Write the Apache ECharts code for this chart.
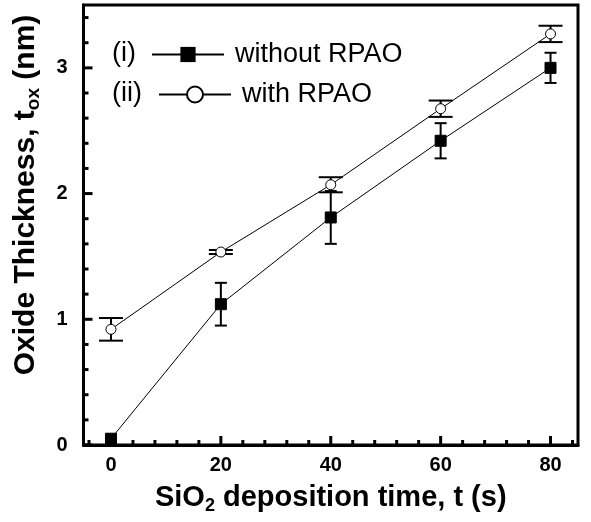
<!DOCTYPE html>
<html>
<head>
<meta charset="utf-8">
<script src="https://cdn.jsdelivr.net/npm/echarts@6/dist/echarts.min.js"></script>
<style>
  html, body { margin: 0; padding: 0; background: #fff; }
  #chart { width: 591px; height: 522px; }
</style>
</head>
<body>
<div id="chart"></div>
<script>
  // deposition time (s)
  const times = [0, 20, 40, 60, 80]
  // (i) without RPAO
  const withoutVals = [0.05, 1.12, 1.81, 2.42, 3.0]
  const withoutErr = [0.03, 0.17, 0.21, 0.14, 0.12]
  // (ii) with RPAO
  const withVals = [0.92, 1.535, 2.07, 2.675, 3.27]
  const withErr = [0.09, 0.016, 0.06, 0.065, 0.065]

  const xMajor = [0, 20, 40, 60, 80]
  const xMinor = [-4, 4, 8, 12, 16, 24, 28, 32, 36, 44, 48, 52, 56, 64, 68, 72, 76, 84]
  const yMajor = [0, 1, 2, 3]
  const yMinor = [0.2, 0.4, 0.6, 0.8, 1.2, 1.4, 1.6, 1.8, 2.2, 2.4, 2.6, 2.8, 3.2, 3.4]

  const font = 'Liberation Sans, Arial, sans-serif'
  const chart = echarts.init(document.getElementById('chart'))

  const lineData = vals => times.map((t, i) => [t, vals[i]])
  const errData = (vals, errs) => times.map((t, i) => [t, vals[i] - errs[i], vals[i] + errs[i]])

  function errorBar (capW) {
    return function (params, api) {
      const lo = api.coord([api.value(0), api.value(1)])
      const hi = api.coord([api.value(0), api.value(2)])
      const st = { stroke: '#000', lineWidth: 2 }
      return {
        type: 'group',
        children: [
          { type: 'line', shape: { x1: lo[0], y1: lo[1], x2: hi[0], y2: hi[1] }, style: st },
          { type: 'line', shape: { x1: lo[0] - capW / 2, y1: lo[1], x2: lo[0] + capW / 2, y2: lo[1] }, style: st },
          { type: 'line', shape: { x1: hi[0] - capW / 2, y1: hi[1], x2: hi[0] + capW / 2, y2: hi[1] }, style: st },
        ]
      }
    }
  }

  // inward ticks, placed by the axis scales
  const tickSt = { stroke: '#000', lineWidth: 3 }
  function xTick (len) {
    return function (params, api) {
      const x = api.coord([api.value(0), 0])[0]
      const b = params.coordSys.y + params.coordSys.height
      return { type: 'line', shape: { x1: x, y1: b, x2: x, y2: b - len }, style: tickSt }
    }
  }
  function yTick (len) {
    return function (params, api) {
      const y = api.coord([0, api.value(1)])[1]
      const l = params.coordSys.x
      return { type: 'line', shape: { x1: l, y1: y, x2: l + len, y2: y }, style: tickSt }
    }
  }
  const tickSeries = (render, data) => ({
    type: 'custom', renderItem: render, data, encode: { x: 0, y: 1 }, z: 5, silent: true, clip: false
  })

  const legendText = { fontFamily: font, fontSize: 27, color: '#000', padding: [0, 0, 0, 6] }
  const nameRich = size => ({
    a: { fontFamily: font, fontWeight: 'bold', fontSize: size, color: '#000', lineHeight: 32 },
    s: { fontFamily: font, fontWeight: 'bold', fontSize: Math.round(size * 0.62), color: '#000', lineHeight: 32, padding: [16, 0, 0, 0] }
  })
  const labelStyle = { color: '#000', fontFamily: font, fontWeight: 'bold', fontSize: 20 }

  const option = {
    animation: false,
    grid: {
      left: 82, right: 13, top: 5, bottom: 77,
      show: true, borderColor: '#000', borderWidth: 3
    },
    legend: [
      {
        left: 146, top: 36, itemWidth: 72, itemHeight: 19,
        selectedMode: false, textStyle: legendText,
        data: ['without RPAO']
      },
      {
        left: 153, top: 76, itemWidth: 72, itemHeight: 20,
        selectedMode: false, textStyle: legendText,
        data: ['with RPAO']
      }
    ],
    graphic: [
      { type: 'text', left: 112, top: 40, style: { text: '(i)', font: '27px ' + font, fill: '#000' } },
      { type: 'text', left: 112, top: 80, style: { text: '(ii)', font: '27px ' + font, fill: '#000' } },
    ],
    xAxis: {
      type: 'value', min: -5, max: 85, position: 'bottom',
      axisLine: { show: true, onZero: false, lineStyle: { color: '#000', width: 3 } },
      axisTick: { show: false },
      axisLabel: Object.assign({ margin: 10, showMinLabel: false, showMaxLabel: false }, labelStyle),
      splitLine: { show: false },
      name: '{a|SiO}{s|2}{a| deposition time, t (s)}',
      nameLocation: 'middle',
      nameGap: 37,
      nameTextStyle: { rich: nameRich(29) }
    },
    yAxis: {
      type: 'value', min: 0, max: 3.5, interval: 1, position: 'left',
      axisLine: { show: true, onZero: false, lineStyle: { color: '#000', width: 3 } },
      axisTick: { show: false },
      axisLabel: Object.assign({ margin: 16, showMaxLabel: false }, labelStyle),
      splitLine: { show: false },
      name: '{a|Oxide Thickness, t}{s|ox}{a| (nm)}',
      nameLocation: 'middle',
      nameGap: 42,
      nameTextStyle: { padding: [0, 0, 0, 60], rich: nameRich(30) }
    },
    series: [
      tickSeries(xTick(9), xMajor.map(v => [v, 0])),
      tickSeries(xTick(5), xMinor.map(v => [v, 0])),
      tickSeries(yTick(9), yMajor.map(v => [0, v])),
      tickSeries(yTick(5), yMinor.map(v => [0, v])),
      {
        type: 'custom', renderItem: errorBar(12), data: errData(withoutVals, withoutErr),
        encode: { x: 0, y: [1, 2] }, z: 2, silent: true
      },
      {
        type: 'custom', renderItem: errorBar(24), data: errData(withVals, withErr),
        encode: { x: 0, y: [1, 2] }, z: 2, silent: true
      },
      {
        name: 'without RPAO', type: 'line', data: lineData(withoutVals), z: 3,
        symbol: 'rect', symbolSize: 11,
        lineStyle: { color: '#000', width: 1 },
        itemStyle: { color: '#000', borderColor: '#000' }
      },
      {
        name: 'with RPAO', type: 'line', data: lineData(withVals), z: 3,
        symbol: 'circle', symbolSize: 10,
        lineStyle: { color: '#000', width: 1 },
        itemStyle: { color: '#fff', borderColor: '#000', borderWidth: 1 }
      }
    ]
  }
  chart.setOption(option)
</script>
</body>
</html>
